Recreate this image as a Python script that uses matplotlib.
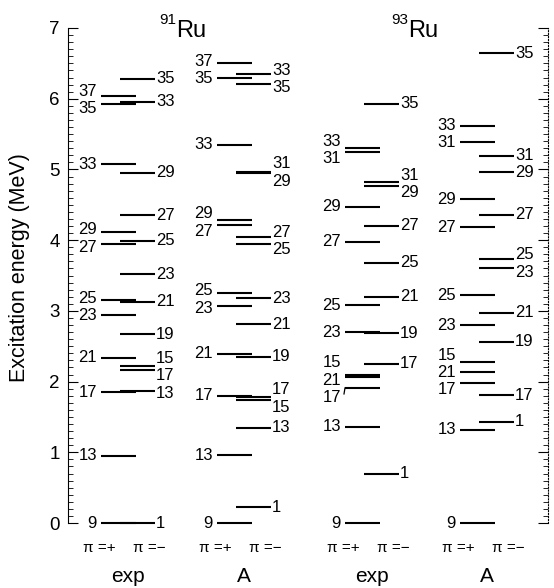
import numpy as np
import matplotlib.pyplot as plt
from matplotlib.ticker import MultipleLocator

plt.rcParams['font.family'] = ['Liberation Sans', 'DejaVu Sans']

# 2J 値と励起エネルギー (MeV)
ru91_exp_pos_spin = [9, 13, 17, 21, 23, 25, 27, 29, 33, 35, 37]
ru91_exp_pos_e = [0.00, 0.95, 1.85, 2.34, 2.94, 3.16, 3.94, 4.11, 5.07, 5.92, 6.04]
ru91_exp_neg_spin = [1, 13, 17, 15, 19, 21, 23, 25, 27, 29, 33, 35]
ru91_exp_neg_e = [0.00, 1.865, 2.16, 2.22, 2.67, 3.13, 3.52, 3.99, 4.35, 4.95, 5.96, 6.28]

ru91_a_pos_spin = [9, 13, 17, 21, 23, 25, 27, 29, 33, 35, 37]
ru91_a_pos_e = [0.00, 0.96, 1.80, 2.39, 3.07, 3.25, 4.21, 4.29, 5.35, 6.30, 6.51]
ru91_a_neg_spin = [1, 13, 15, 17, 19, 21, 23, 25, 27, 29, 31, 35, 33]
ru91_a_neg_e = [0.22, 1.35, 1.74, 1.785, 2.35, 2.81, 3.18, 3.94, 4.04, 4.95, 4.96, 6.21, 6.35]

ru93_exp_pos_spin = [9, 13, 17, 21, 15, 23, 25, 27, 29, 31, 33]
ru93_exp_pos_e = [0.00, 1.36, 1.91, 2.06, 2.09, 2.70, 3.08, 3.98, 4.47, 5.24, 5.31]
ru93_exp_neg_spin = [1, 17, 19, 21, 25, 27, 29, 31, 35]
ru93_exp_neg_e = [0.70, 2.25, 2.68, 3.20, 3.68, 4.20, 4.76, 4.82, 5.93]

ru93_a_pos_spin = [9, 13, 17, 21, 15, 23, 25, 27, 29, 31, 33]
ru93_a_pos_e = [0.00, 1.32, 1.98, 2.14, 2.27, 2.80, 3.22, 4.18, 4.58, 5.39, 5.62]
ru93_a_neg_spin = [1, 17, 19, 21, 23, 25, 27, 29, 31, 35]
ru93_a_neg_e = [1.43, 1.81, 2.56, 2.97, 3.61, 3.73, 4.36, 4.96, 5.19, 6.64]

column_names = ["exp", "A", "exp", "A"]
nuclei = ["91", "93"]

columns = [
    (ru91_exp_pos_spin, ru91_exp_pos_e, ru91_exp_neg_spin, ru91_exp_neg_e),
    (ru91_a_pos_spin, ru91_a_pos_e, ru91_a_neg_spin, ru91_a_neg_e),
    (ru93_exp_pos_spin, ru93_exp_pos_e, ru93_exp_neg_spin, ru93_exp_neg_e),
    (ru93_a_pos_spin, ru93_a_pos_e, ru93_a_neg_spin, ru93_a_neg_e),
]

# レイアウト (x はピクセル相当の座標)
col_start = [101, 217, 345, 460]
line_len = 35
neg_shift = 19
min_gap = 0.245


def spread(energies, gap):
    # ラベルが重ならないように位置をずらす
    order = np.argsort(energies)
    vals = np.asarray(energies, dtype=float)[order]
    clusters = [[v] for v in vals]

    def place(c):
        n = len(c)
        return np.mean(c) - (n - 1) * gap / 2 + np.arange(n) * gap

    merged = True
    while merged:
        merged = False
        for i in range(len(clusters) - 1):
            lo = place(clusters[i])
            hi = place(clusters[i + 1])
            if hi[0] - lo[-1] < gap - 1e-9:
                clusters[i] = clusters[i] + clusters[i + 1]
                del clusters[i + 1]
                merged = True
                break
    pos = np.concatenate([place(c) for c in clusters])
    out = np.empty_like(pos)
    out[order] = pos
    return out


fig = plt.figure(figsize=(5.54, 5.88), dpi=100)
ax = fig.add_axes([68 / 554, 65 / 588, 480 / 554, 495 / 588])
ax.set_xlim(68, 548)
ax.set_ylim(0, 7)

fs = 12
for k, (ps, pe, ns, ne) in enumerate(columns):
    x0 = col_start[k]
    # π = +
    ax.hlines(pe, x0, x0 + line_len, color='k', lw=1.5, clip_on=False)
    lab = spread(pe, min_gap)
    for s, e, ly in zip(ps, pe, lab):
        ax.text(x0 - 4, ly, str(s), ha='right', va='center', fontsize=fs)
        if k == 2 and s == 17:
            ax.plot([x0, x0 - 1], [e, ly + 0.05], color='k', lw=0.9)
    # π = −
    xn = x0 + neg_shift
    ax.hlines(ne, xn, xn + line_len, color='k', lw=1.5, clip_on=False)
    lab = spread(ne, min_gap)
    for s, ly in zip(ns, lab):
        ax.text(xn + line_len + 1, ly, str(s), ha='left', va='center', fontsize=fs)

    ax.text(x0 - 2, -0.35, "π =+", ha='center', va='center', fontsize=11)
    ax.text(x0 + 48, -0.35, "π =−", ha='center', va='center', fontsize=11)
    ax.text(x0 + 27, -0.76, column_names[k], ha='center', va='center', fontsize=15)

# 核種名
for nuc, xr in zip(nuclei, [176, 408]):
    ax.text(xr, 6.96, "Ru", ha='left', va='center', fontsize=17)
    ax.text(xr, 7.11, nuc, ha='right', va='center', fontsize=11)

# 軸
for side in ['top', 'bottom']:
    ax.spines[side].set_visible(False)
ax.spines['right'].set_linestyle(':')
ax.set_xticks([])
ax.yaxis.set_major_locator(MultipleLocator(1))
ax.yaxis.set_minor_locator(MultipleLocator(0.1))
ax.tick_params(axis='y', which='both', direction='in', left=True, right=True,
               labelsize=13.5, pad=6)
ax.tick_params(axis='y', which='major', length=7)
ax.tick_params(axis='y', which='minor', length=3.5)

fig.text(20 / 554, (588 - 268) / 588, "Excitation energy (MeV)", rotation=90,
         ha='center', va='center', fontsize=15.5)

plt.savefig('out.png', dpi=100)
